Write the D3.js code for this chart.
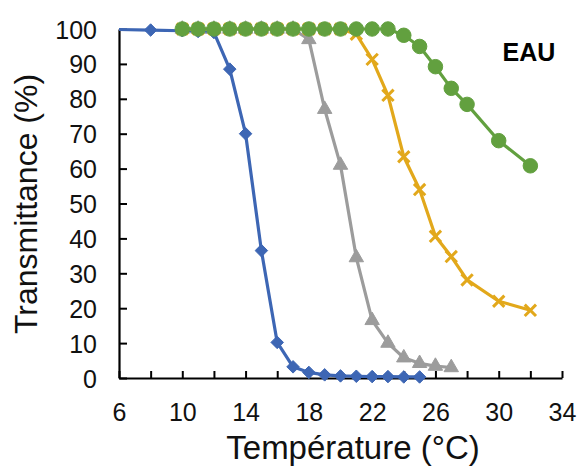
<!DOCTYPE html>
<html>
<head>
<meta charset="utf-8">
<script src="https://cdn.jsdelivr.net/npm/d3@7/dist/d3.min.js"></script>
<style>
  html, body { margin: 0; padding: 0; background: #ffffff; }
  svg { display: block; font-family: "Liberation Sans", Arial, sans-serif; }
</style>
</head>
<body>
<svg id="chart" width="580" height="470"></svg>
<script>
// Transmittance vs temperature, four series (water)
const tempBlue   = [4, 8, 10, 11, 12, 13, 14, 15, 16, 17, 18, 19, 20, 21, 22, 23, 24, 25];
const blueValues = [100, 99.7, 99.5, 99.3, 99, 88.5, 70, 36.5, 10.2, 3.2, 1.6, 0.9, 0.6, 0.5, 0.4, 0.4, 0.3, 0.3];

const tempGray   = [10, 11, 12, 13, 14, 15, 16, 17, 18, 19, 20, 21, 22, 23, 24, 25, 26, 27];
const grayValues = [100, 100, 100, 100, 100, 100, 100, 100, 97, 77, 61, 34.5, 16.5, 10, 5.8, 4.2, 3.4, 3.0];

const tempYellow   = [10, 11, 12, 13, 14, 15, 16, 17, 18, 19, 20, 21, 22, 23, 24, 25, 26, 27, 28, 30, 32];
const yellowValues = [100, 100, 100, 100, 100, 100, 100, 100, 100, 100, 100, 98.5, 91.3, 81, 63.4, 54, 40.6, 34.8, 28.1, 22, 19.4];

const tempGreen   = [10, 11, 12, 13, 14, 15, 16, 17, 18, 19, 20, 21, 22, 23, 24, 25, 26, 27, 28, 30, 32];
const greenValues = [100, 100, 100, 100, 100, 100, 100, 100, 100, 100, 100, 100, 100, 100, 98.2, 95, 89.2, 83, 78.4, 68, 60.8];

const xTicks = [6, 8, 10, 12, 14, 16, 18, 20, 22, 24, 26, 28, 30, 32, 34];
const xTickLabels = ["6", "10", "14", "18", "22", "26", "30", "34"];
const yTicks = [0, 10, 20, 30, 40, 50, 60, 70, 80, 90, 100];

const xTitle = "Température (°C)";
const yTitle = "Transmittance (%)";
const panelLabel = "EAU";

const svg = d3.select("#chart");
const plotLeft = 119, plotRight = 562, plotTop = 29, plotBottom = 378;

const x = d3.scaleLinear().domain([6, 34]).range([plotLeft, plotRight]);
const y = d3.scaleLinear().domain([0, 100]).range([plotBottom, plotTop]);

// clip region: the plotting area (points left of the axis are cut off)
svg.append("defs").append("clipPath").attr("id", "plot-clip")
  .append("rect")
  .attr("x", plotLeft).attr("y", 0)
  .attr("width", plotRight - plotLeft + 20).attr("height", 470);

// axes
const xAxis = d3.axisBottom(x)
  .tickValues(xTicks)
  .tickSizeInner(-7).tickSizeOuter(0)
  .tickFormat(d => xTickLabels.includes(String(d)) ? String(d) : "");
const gx = svg.append("g").attr("transform", `translate(0,${plotBottom})`).call(xAxis);
gx.select(".domain").attr("stroke", "#000").attr("stroke-width", 2.2);
gx.selectAll(".tick line").attr("stroke", "#000").attr("stroke-width", 2);
gx.selectAll(".tick text")
  .attr("font-size", 25).attr("fill", "#111").attr("dy", 0).attr("y", 43);

const yAxis = d3.axisLeft(y)
  .tickValues(yTicks)
  .tickSizeInner(-8).tickSizeOuter(0)
  .tickFormat(d3.format("d"));
const gy = svg.append("g").attr("transform", `translate(${plotLeft},0)`).call(yAxis);
gy.select(".domain").attr("stroke", "#000").attr("stroke-width", 2.2);
gy.selectAll(".tick line").attr("stroke", "#000").attr("stroke-width", 2);
gy.selectAll(".tick text")
  .attr("font-size", 25).attr("fill", "#111").attr("x", -22).attr("dy", "0.36em");

// series, drawn in order so the green circles sit on top
const series = [
  { t: tempBlue,   v: blueValues,   color: "#3d66b4", marker: "diamond" },
  { t: tempGray,   v: grayValues,   color: "#9c9c9c", marker: "triangle" },
  { t: tempYellow, v: yellowValues, color: "#e2a81b", marker: "cross" },
  { t: tempGreen,  v: greenValues,  color: "#62a03f", marker: "circle" }
];

const line = d3.line().x(d => x(d[0])).y(d => y(d[1]));
const symbols = {
  diamond: d3.symbol().type(d3.symbolDiamond2).size(100),
  triangle: d3.symbol().type(d3.symbolTriangle).size(90),
  circle: d3.symbol().type(d3.symbolCircle).size(165),
  cross: d3.symbol().type(d3.symbolX).size(85)
};

const plot = svg.append("g").attr("clip-path", "url(#plot-clip)");

series.forEach(s => {
  const pts = s.t.map((t, i) => [t, s.v[i]]);
  const g = plot.append("g");
  g.append("path")
    .datum(pts)
    .attr("d", line)
    .attr("fill", "none")
    .attr("stroke", s.color)
    .attr("stroke-width", 3.2)
    .attr("stroke-linejoin", "round");
  const marks = g.selectAll("path.mark")
    .data(pts.filter(p => p[0] >= 6))
    .join("path")
    .attr("class", "mark")
    .attr("transform", p => `translate(${x(p[0])},${y(p[1])})`)
    .attr("d", symbols[s.marker]);
  if (s.marker === "cross") {
    marks.attr("fill", "none").attr("stroke", s.color).attr("stroke-width", 3);
  } else {
    marks.attr("fill", s.color).attr("stroke", s.color).attr("stroke-width", 1);
  }
});

// titles
svg.append("text")
  .attr("x", 353).attr("y", 459)
  .attr("text-anchor", "middle")
  .attr("font-size", 33).attr("fill", "#111")
  .text(xTitle);

svg.append("text")
  .attr("transform", "translate(37,204) rotate(-90)")
  .attr("text-anchor", "middle")
  .attr("font-size", 32).attr("fill", "#111")
  .text(yTitle);

svg.append("text")
  .attr("x", 529).attr("y", 61)
  .attr("text-anchor", "middle")
  .attr("font-size", 25).attr("font-weight", "bold").attr("fill", "#000")
  .text(panelLabel);
</script>
</body>
</html>
